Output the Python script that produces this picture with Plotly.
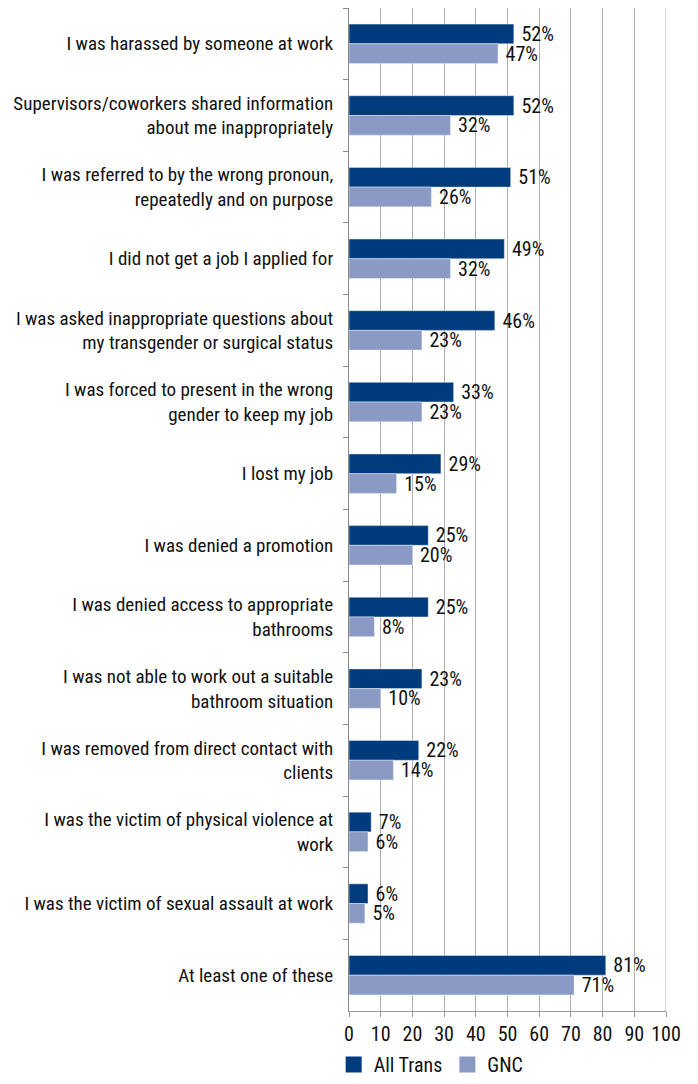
import plotly.graph_objects as go

categories = [
    "I was harassed by someone at work",
    "Supervisors/coworkers shared information<br>about me inappropriately",
    "I was referred to by the wrong pronoun,<br>repeatedly and on purpose",
    "I did not get a job I applied for",
    "I was asked inappropriate questions about<br>my transgender or surgical status",
    "I was forced to present in the wrong<br>gender to keep my job",
    "I lost my job",
    "I was denied a promotion",
    "I was denied access to appropriate<br>bathrooms",
    "I was not able to work out a suitable<br>bathroom situation",
    "I was removed from direct contact with<br>clients",
    "I was the victim of physical violence at<br>work",
    "I was the victim of sexual assault at work",
    "At least one of these",
]
all_trans = [52, 52, 51, 49, 46, 33, 29, 25, 25, 23, 22, 7, 6, 81]
gnc = [47, 32, 26, 32, 23, 23, 15, 20, 8, 10, 14, 6, 5, 71]
x_ticks = list(range(0, 101, 10))

FONT = "Liberation Sans Narrow, Arial Narrow, Roboto Condensed, Liberation Sans, sans-serif"
DARK = "#003b7d"
LIGHT = "#8a9ac4"

fig = go.Figure()
fig.add_trace(go.Bar(
    y=categories, x=all_trans, orientation="h", name="All Trans",
    marker=dict(color=DARK), showlegend=False,
    text=all_trans, texttemplate="\u00a0%{x}%", textposition="outside", constraintext="none",
    textfont=dict(size=20, color="#111111", family=FONT), cliponaxis=False,
))
fig.add_trace(go.Bar(
    y=categories, x=gnc, orientation="h", name="GNC",
    marker=dict(color=LIGHT), showlegend=False,
    text=gnc, texttemplate="\u00a0%{x}%", textposition="outside", constraintext="none",
    textfont=dict(size=20, color="#111111", family=FONT), cliponaxis=False,
))
# legend entries with larger square swatches
fig.add_trace(go.Scatter(x=[None], y=[None], mode="markers", name="All Trans",
                         marker=dict(symbol="square", size=16, color=DARK)))
fig.add_trace(go.Scatter(x=[None], y=[None], mode="markers", name="GNC",
                         marker=dict(symbol="square", size=16, color=LIGHT)))

fig.update_layout(
    width=690, height=1076,
    barmode="group", bargap=0.45, bargroupgap=0,
    paper_bgcolor="white", plot_bgcolor="white",
    margin=dict(l=341, r=32, t=0, b=73, autoexpand=False),
    font=dict(family=FONT, size=19, color="#111111"),
    legend=dict(orientation="h", xref="container", yref="container",
                x=0.472, y=-0.006, xanchor="left", yanchor="bottom",
                font=dict(size=20, family=FONT), itemwidth=30, traceorder="normal",
                bgcolor="rgba(0,0,0,0)"),
    xaxis=dict(range=[0, 100], tickvals=x_ticks, showgrid=True, gridcolor="#b0b0b0",
               gridwidth=1, showline=True, linecolor="#999999", ticks="outside",
               ticklen=5, tickcolor="#999999", tickfont=dict(size=20, family=FONT),
               zeroline=False, mirror=False),
    yaxis=dict(autorange="reversed", type="category", showline=True, linecolor="#888888",
               linewidth=1, ticks="outside", tickson="boundaries", ticklen=5,
               tickcolor="#888888", tickfont=dict(size=19, family=FONT),
               ticklabelstandoff=11, showgrid=False),
    showlegend=True,
)
fig.add_shape(type="line", xref="x", yref="paper", x0=100, x1=100, y0=0, y1=1,
              line=dict(color="#b0b0b0", width=1))

fig.write_html("out.html")
